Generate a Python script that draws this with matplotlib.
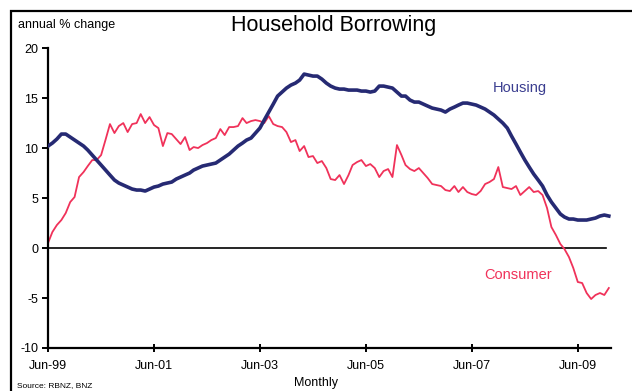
import matplotlib
matplotlib.use("Agg")
import matplotlib.pyplot as plt
import pandas as pd
from matplotlib.patches import Rectangle

plt.rcParams["font.family"] = ["Liberation Sans", "DejaVu Sans"]
plt.rcParams["axes.unicode_minus"] = False

# monthly annual % change, Jun-99 .. Jan-10
housing = [
    10.2, 10.5, 10.9, 11.4, 11.4, 11.1, 10.8, 10.5, 10.2, 9.8,
    9.3, 8.8, 8.3, 7.8, 7.3, 6.8, 6.5, 6.3, 6.1, 5.9,
    5.8, 5.8, 5.7, 5.9, 6.1, 6.2, 6.4, 6.5, 6.6, 6.9,
    7.1, 7.3, 7.5, 7.8, 8.0, 8.2, 8.3, 8.4, 8.5, 8.8,
    9.1, 9.4, 9.8, 10.2, 10.5, 10.8, 11.0, 11.5, 12.0, 12.8,
    13.6, 14.4, 15.2, 15.6, 16.0, 16.3, 16.5, 16.8, 17.4, 17.3,
    17.2, 17.2, 16.9, 16.5, 16.2, 16.0, 15.9, 15.9, 15.8, 15.8,
    15.8, 15.7, 15.7, 15.6, 15.7, 16.2, 16.2, 16.1, 16.0, 15.6,
    15.2, 15.2, 14.8, 14.6, 14.6, 14.4, 14.2, 14.0, 13.9, 13.8,
    13.6, 13.9, 14.1, 14.3, 14.5, 14.5, 14.4, 14.3, 14.1, 13.9,
    13.6, 13.3, 12.9, 12.5, 12.0, 11.2, 10.4, 9.6, 8.8, 8.1,
    7.4, 6.8, 6.2, 5.3, 4.6, 4.0, 3.4, 3.1, 2.9, 2.9,
    2.8, 2.8, 2.8, 2.9, 3.0, 3.2, 3.3, 3.2,
]
consumer = [
    0.5, 1.6, 2.3, 2.8, 3.5, 4.6, 5.1, 7.1, 7.6, 8.2,
    8.8, 8.8, 9.3, 10.8, 12.4, 11.5, 12.2, 12.5, 11.6, 12.4,
    12.5, 13.4, 12.5, 13.1, 12.3, 12.0, 10.2, 11.5, 11.4, 10.9,
    10.4, 11.1, 9.8, 10.1, 10.0, 10.3, 10.5, 10.8, 11.0, 11.9,
    11.3, 12.1, 12.1, 12.2, 13.0, 12.5, 12.7, 12.8, 12.7, 12.5,
    13.2, 12.4, 12.2, 12.1, 11.6, 10.6, 10.8, 9.7, 10.2, 9.1,
    9.2, 8.5, 8.7, 8.0, 6.9, 6.8, 7.3, 6.4, 7.3, 8.3,
    8.6, 8.8, 8.2, 8.4, 8.0, 7.1, 7.7, 7.9, 7.1, 10.3,
    9.3, 8.3, 7.9, 7.7, 8.0, 7.5, 7.0, 6.4, 6.3, 6.2,
    5.8, 5.7, 6.2, 5.6, 6.1, 5.6, 5.4, 5.3, 5.7, 6.4,
    6.6, 6.9, 8.1, 6.1, 6.0, 5.9, 6.2, 5.3, 5.7, 6.1,
    5.6, 5.7, 5.3, 4.0, 2.1, 1.3, 0.4, -0.1, -0.9, -2.0,
    -3.4, -3.5, -4.5, -5.1, -4.7, -4.5, -4.7, -4.0,
]
dates = pd.date_range("1999-06-01", periods=len(housing), freq="MS")
tick_dates = pd.to_datetime(["1999-06-01", "2001-06-01", "2003-06-01",
                             "2005-06-01", "2007-06-01", "2009-06-01"])
tick_labels = ["Jun-99", "Jun-01", "Jun-03", "Jun-05", "Jun-07", "Jun-09"]

navy = "#262a73"
pink = "#f0325a"

fig = plt.figure(figsize=(6.32, 3.91), dpi=100)
ax = fig.add_axes([0.076, 0.110, 0.891, 0.767])

ax.axhline(0, xmin=0, xmax=0.99, color="black", lw=1.2, zorder=1)
ax.plot(dates, consumer, color=pink, lw=1.3, zorder=2)
ax.plot(dates, housing, color=navy, lw=2.6, zorder=3)

ax.set_ylim(-10, 20)
ax.set_yticks([-10, -5, 0, 5, 10, 15, 20])
ax.set_xlim(dates[0], dates[-1] + pd.Timedelta(days=16))
ax.set_xticks(tick_dates)
ax.set_xticklabels(tick_labels)

for s in ["top", "right"]:
    ax.spines[s].set_visible(False)
for s in ["left", "bottom"]:
    ax.spines[s].set_linewidth(1.6)
ax.tick_params(axis="y", direction="out", length=4, width=1.4, labelsize=9, pad=3)
ax.tick_params(axis="x", direction="inout", length=6, width=1.4, labelsize=9, pad=6)

fig.text(0.780, 0.775, "Housing", va="center", color="#3b3e90", fontsize=10.5)
fig.text(0.767, 0.297, "Consumer", va="center", color=pink, fontsize=10.5)

fig.text(0.528, 0.935, "Household Borrowing", ha="center", va="center", fontsize=15.5)
fig.text(0.029, 0.935, "annual % change", ha="left", va="center", fontsize=9)
fig.text(0.027, 0.004, "Source: RBNZ, BNZ", ha="left", va="bottom", fontsize=6)
fig.text(0.50, 0.004, "Monthly", ha="center", va="bottom", fontsize=9)

fig.patches.append(Rectangle((11 / 632, -0.2), 1.2, 1.2 - 11 / 391,
                             transform=fig.transFigure, fill=False,
                             edgecolor="black", lw=1.6))

fig.savefig("out.png", dpi=100)
